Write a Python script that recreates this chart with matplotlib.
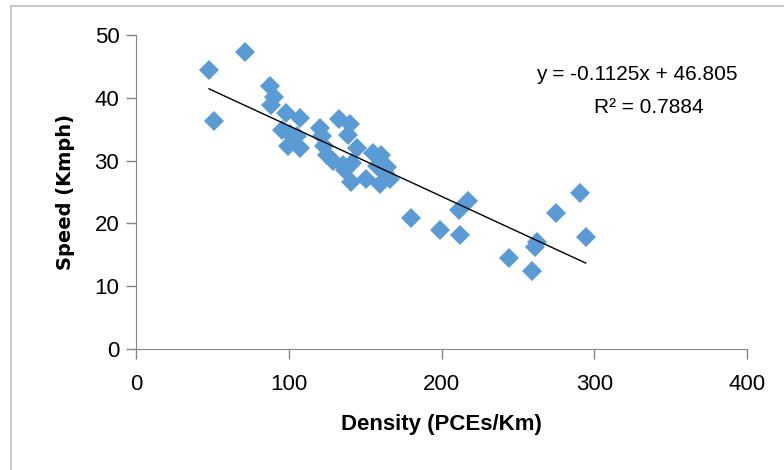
import matplotlib
matplotlib.use('Agg')
import matplotlib.pyplot as plt
from matplotlib.lines import Line2D
import numpy as np

plt.rcParams['font.family'] = ['Liberation Sans', 'DejaVu Sans']

# Density (PCEs/Km) vs speed (Kmph)
density = [47.8, 51.1, 71.5, 87.6, 90.6, 88.5, 98.5, 107.3, 95.5, 100.7,
           105.6, 99.7, 107.3, 120.3, 121.5, 122.8, 124.8, 128.8, 132.8, 140.0,
           139.0, 144.5, 135.3, 137.0, 141.6, 140.8, 150.3, 155.0, 160.5, 158.0,
           164.5, 159.8, 166.2, 163.0, 179.9, 198.9, 211.3, 217.5, 211.9, 244.0,
           259.4, 261.0, 262.6, 274.7, 290.4, 294.4]
speed = [44.4, 36.3, 47.3, 41.8, 40.1, 38.8, 37.6, 36.8, 34.9, 34.2,
         33.9, 32.3, 32.0, 35.2, 33.9, 32.4, 30.9, 30.0, 36.7, 35.9,
         34.0, 32.0, 29.3, 28.5, 29.6, 26.6, 27.1, 31.2, 30.9, 29.1,
         29.0, 26.2, 27.0, 28.0, 20.8, 18.9, 22.1, 23.6, 18.2, 14.5,
         12.5, 16.2, 17.0, 21.6, 24.9, 17.8]

# linear trendline shown on the chart
slope = -0.1125
intercept = 46.805
r2 = 0.7884

fig = plt.figure(figsize=(7.84, 4.70), dpi=100)
ax = fig.add_axes([136 / 784, 1 - 349 / 470, (747 - 136) / 784, (349 - 35) / 470])

ax.plot(density, speed, linestyle='none', marker='D', markersize=10.5,
        color='#5B9BD5', markeredgewidth=0, zorder=3)

xs = np.array([min(density), max(density)])
ax.plot(xs, slope * xs + intercept, color='black', linewidth=1, zorder=4)

ax.text(328, 43.7, f'y = {slope}x + {intercept}', ha='center', va='center', fontsize=15)
ax.text(336, 38.4, f'R² = {r2}', ha='center', va='center', fontsize=15)

ax.set_xlim(0, 400)
ax.set_ylim(0, 50)
ax.set_xticks([0, 100, 200, 300, 400])
ax.set_yticks([0, 10, 20, 30, 40, 50])
ax.tick_params(labelsize=16, color='#868686', length=7, width=1)
ax.tick_params(axis='x', pad=11)
ax.tick_params(axis='y', pad=5)
for s in ['top', 'right']:
    ax.spines[s].set_visible(False)
for s in ['left', 'bottom']:
    ax.spines[s].set_color('#868686')

ax.set_xlabel('Density (PCEs/Km)', fontsize=16, fontweight='bold', labelpad=14)
ax.set_ylabel('Speed (Kmph)', fontsize=14, fontweight='bold', labelpad=14,
              family=['DejaVu Sans'])

# chart area border (top and left edges visible)
bx, by = 11 / 784, 1 - 5.5 / 470
fig.add_artist(Line2D([bx, 1], [by, by], transform=fig.transFigure,
                      color='#BFBFBF', linewidth=1.2))
fig.add_artist(Line2D([bx, bx], [0, by], transform=fig.transFigure,
                      color='#BFBFBF', linewidth=1.2))

fig.savefig('out.png', dpi=100)
